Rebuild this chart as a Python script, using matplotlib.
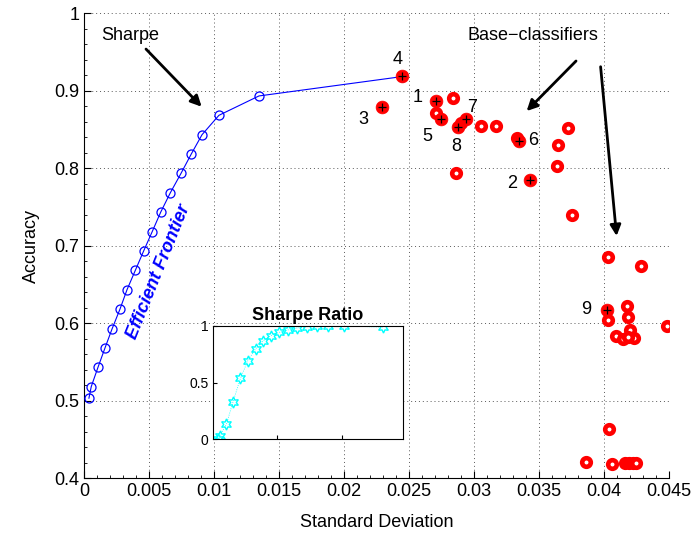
import matplotlib
matplotlib.use('Agg')
import matplotlib.pyplot as plt
from matplotlib.ticker import MultipleLocator

plt.rcParams['font.family'] = ['Liberation Sans', 'DejaVu Sans']

# efficient frontier (std, accuracy)
front_std = [0.00038, 0.00056, 0.00108, 0.00162, 0.00215, 0.00277, 0.00331, 0.00395,
             0.00459, 0.00525, 0.00590, 0.00664, 0.00746, 0.00825, 0.00908, 0.01038,
             0.01346, 0.02448]
front_acc = [0.503, 0.518, 0.543, 0.568, 0.592, 0.618, 0.643, 0.668, 0.693, 0.718,
             0.743, 0.768, 0.793, 0.818, 0.843, 0.868, 0.893, 0.918]

# selected base classifiers (numbered)
sel_id = ['1', '2', '3', '4', '5', '6', '7', '8', '9']
sel_std = [0.02710, 0.03433, 0.02292, 0.02448, 0.02746, 0.03349, 0.02936, 0.02879, 0.04023]
sel_acc = [0.8865, 0.7849, 0.8791, 0.9183, 0.8628, 0.8348, 0.8636, 0.8525, 0.6168]
lab_std = [0.02569, 0.03292, 0.02146, 0.02415, 0.02638, 0.03454, 0.02985, 0.02862, 0.03862]
lab_acc = [0.8916, 0.7806, 0.8632, 0.9394, 0.8413, 0.8361, 0.8787, 0.8284, 0.6168]

# other base classifiers
oth_std = [0.02838, 0.02705, 0.02898, 0.03056, 0.03169, 0.03333, 0.02864, 0.03725,
           0.03643, 0.03636, 0.03756, 0.04028, 0.04285, 0.04180, 0.04185, 0.04033,
           0.04482, 0.04202, 0.04090, 0.04143, 0.04231, 0.04187, 0.04041, 0.03864,
           0.04059, 0.04160, 0.04190, 0.04220, 0.04250]
oth_acc = [0.8899, 0.8714, 0.8577, 0.8546, 0.8542, 0.8383, 0.7940, 0.8512,
           0.8297, 0.8022, 0.7390, 0.6856, 0.6739, 0.6223, 0.6077, 0.6035,
           0.5966, 0.5906, 0.5828, 0.5794, 0.5810, 0.5815, 0.4632, 0.4211,
           0.4177, 0.4198, 0.4198, 0.4198, 0.4198]

# sharpe ratio inset
sr_x = [0.068, 0.10, 0.204, 0.308, 0.423, 0.538, 0.658, 0.778, 0.898, 1.029,
        1.159, 1.300, 1.457, 1.619, 1.781, 2.031, 2.642]
sr_y = [0.0, 0.03, 0.132, 0.332, 0.538, 0.694, 0.797, 0.870, 0.915, 0.944,
        0.965, 0.982, 0.994, 1.0, 1.0, 1.0, 0.99]

fig = plt.figure(figsize=(6.97, 5.36), dpi=100)
ax = fig.add_axes([0.1205, 0.1082, 0.8393, 0.8675])

ax.plot(front_std, front_acc, '-o', color='blue', lw=0.8, ms=6.5,
        mfc='none', mec='blue', mew=0.9, zorder=3)

# red circles with white hole
ax.plot(oth_std, oth_acc, 'o', ls='none', ms=6.2, mfc='white', mec='red', mew=3.3, zorder=4)
ax.plot(sel_std, sel_acc, 'o', ls='none', ms=9.2, mfc='red', mec='red', mew=0.5, zorder=4)
ax.plot(sel_std, sel_acc, '+', ls='none', ms=5.5, color='black', mew=0.9, zorder=5)

for t, x, y in zip(sel_id, lab_std, lab_acc):
    ax.text(x, y, t, fontsize=13, ha='center', va='center')

ax.text(0.00354, 0.9716, 'Sharpe', fontsize=13, ha='center', va='center')
ax.text(0.03454, 0.9716, 'Base\u2212classifiers', fontsize=13, ha='center', va='center')
ax.text(0.00575, 0.666, 'Efficient Frontier', fontsize=13, fontweight='bold',
        fontstyle='italic', color='blue', rotation=68, ha='center', va='center')

arrows = [((0.00477, 0.9535), (0.00905, 0.8791)),
          ((0.03785, 0.9381), (0.03405, 0.8735)),
          ((0.03974, 0.9307), (0.04097, 0.7123))]
for start, end in arrows:
    ax.annotate('', xy=end, xytext=start,
                arrowprops=dict(arrowstyle='-|>', color='black', lw=2, mutation_scale=16,
                                shrinkA=0, shrinkB=0))

ax.set_xlim(0, 0.045)
ax.set_ylim(0.4, 1.0)
ax.set_xticks([0, 0.005, 0.01, 0.015, 0.02, 0.025, 0.03, 0.035, 0.04, 0.045])
ax.set_xticklabels(['0', '0.005', '0.01', '0.015', '0.02', '0.025', '0.03', '0.035', '0.04', '0.045'])
ax.set_yticks([0.4, 0.5, 0.6, 0.7, 0.8, 0.9, 1.0])
ax.set_yticklabels(['0.4', '0.5', '0.6', '0.7', '0.8', '0.9', '1'])
ax.xaxis.set_minor_locator(MultipleLocator(0.001))
ax.yaxis.set_minor_locator(MultipleLocator(0.02))
ax.tick_params(which='both', direction='in', labelsize=13)
ax.tick_params(which='major', length=5)
ax.tick_params(which='minor', length=2.5)
ax.grid(True, which='major', color='0.35', linestyle=(0, (1, 3)), lw=0.7)
ax.spines['top'].set_visible(False)
ax.spines['right'].set_visible(False)
ax.set_xlabel('Standard Deviation', fontsize=13, labelpad=10)
ax.set_ylabel('Accuracy', fontsize=13, labelpad=10)

# inset
ins = fig.add_axes([0.306, 0.1804, 0.2717, 0.2114])
ins.plot(sr_x, sr_y, ':', color='cyan', lw=0.6)
ins.plot(sr_x, sr_y, marker=(6, 1, 0), ls='none', ms=8, mfc='none', mec='cyan', mew=1.0)
ins.set_xlim(0, 2.95)
ins.set_ylim(0, 1)
ins.set_xticks([1, 2])
ins.set_xticklabels([])
ins.set_yticks([0, 0.5, 1])
ins.set_yticklabels(['0', '0.5', '1'])
ins.tick_params(direction='in', labelsize=10, length=3)
ins.set_title('Sharpe Ratio', fontsize=13, fontweight='bold', pad=4)

fig.savefig('out.png', dpi=100)
